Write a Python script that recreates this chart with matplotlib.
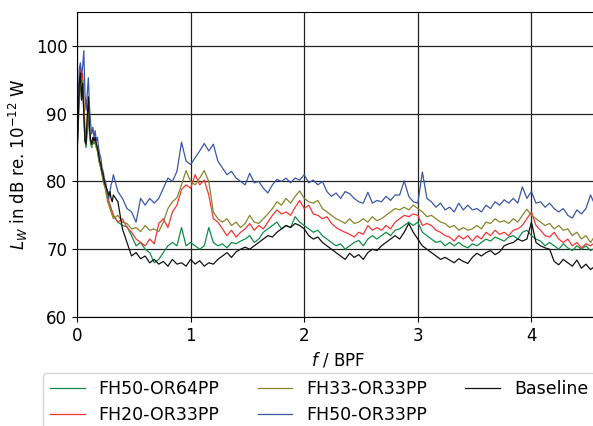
"""Sound power spectra of the rotor configurations over blade passing frequency."""

import numpy as np
import matplotlib
matplotlib.use("Agg")
import matplotlib.pyplot as plt

# frequency grid: fine near 0, coarser above 0.32 BPF
f_low = np.round(np.arange(0.0, 0.32, 0.01), 2)
f_high = np.round(np.arange(0.32, 4.601, 0.04), 2)
freq = np.concatenate([f_low, f_high])

labels = ["FH50-OR64PP", "FH20-OR33PP", "FH33-OR33PP", "FH50-OR33PP", "Baseline"]
colors = ["#108c48", "#f53535", "#86862c", "#3a56a6", "#111111"]

green_low = [84, 87.5, 93, 95, 93, 94, 90, 86, 85, 87.5, 90, 87, 85.5, 85, 86, 85.5,
             86, 85, 84.5, 83.5, 82.5, 82, 81, 80.5, 79.5, 79, 78, 77.5, 77, 76.5, 76, 75.5]
green_high = [75.0, 74.0, 73.5, 73.3, 72.0, 70.5, 71.0, 70.0, 69.5, 68.0,
              68.5, 69.5, 70.5, 71.0, 70.5, 73.2, 70.5, 71.0, 70.5, 70.0,
              70.5, 73.2, 71.0, 70.5, 70.8, 70.2, 71.0, 70.8, 71.2, 71.5,
              72.0, 71.0, 71.5, 72.5, 73.0, 73.5, 74.0, 73.0, 73.5, 73.2,
              74.8, 74.0, 73.5, 73.0, 72.5, 72.8, 72.0, 71.5, 71.0, 70.5,
              70.8, 70.0, 70.5, 71.0, 71.3, 70.5, 71.5, 72.0, 71.5, 72.0,
              72.5, 72.0, 72.8, 73.0, 73.5, 74.0, 73.5, 74.0, 72.5, 72.0,
              71.5, 71.0, 71.2, 70.5, 71.0, 70.5, 71.0, 70.5, 70.2, 70.8,
              70.5, 71.0, 71.5, 71.2, 71.8, 71.5, 71.2, 71.8, 72.0, 71.5,
              72.5, 72.8, 72.0, 71.5, 71.2, 70.5, 71.0, 70.5, 70.0, 70.8,
              70.2, 69.8, 70.5, 70.0, 70.5, 69.8, 70.2, 70.0]

red_low = [84, 90, 95, 97, 94.5, 96, 92, 88, 86.5, 89, 91.5, 88, 86, 85.5, 86.5, 86,
           86.5, 85.5, 85, 84, 83, 82, 81.5, 80.5, 80, 79, 78.5, 78, 77, 76.5, 76, 75.5]
red_high = [75.0, 74.0, 74.5, 73.2, 72.5, 71.5, 71.0, 70.5, 71.5, 70.8,
            73.8, 74.5, 73.2, 75.5, 76.5, 78.8, 79.5, 79.0, 81.0, 79.5,
            80.2, 78.0, 74.5, 74.0, 73.0, 72.0, 72.8, 71.8, 72.5, 73.0,
            73.8, 72.8, 73.5, 73.0, 74.0, 75.0, 75.8, 75.2, 75.5, 75.0,
            76.2, 77.2, 76.0, 76.5, 75.2, 75.0, 74.5, 74.8, 73.8, 73.2,
            72.8, 72.5, 72.2, 71.8, 72.5, 72.2, 73.5, 72.8, 73.2, 72.8,
            73.5, 73.0, 74.0, 74.5, 75.0, 74.8, 75.2, 75.0, 73.5, 73.8,
            73.5, 72.8, 72.5, 72.0, 71.8, 71.2, 72.0, 71.5, 72.0, 71.2,
            72.0, 71.5, 72.5, 72.0, 72.8, 72.2, 72.5, 72.0, 72.8, 73.0,
            73.5, 74.5, 75.5, 73.5, 72.8, 72.0, 71.8, 72.5, 71.5, 71.0,
            71.5, 70.5, 71.0, 70.2, 70.8, 70.5, 71.0, 70.5]

olive_low = [84.5, 88, 93, 94.5, 92, 95, 90.5, 86.5, 85.5, 88, 90.5, 87.5, 86, 85, 86, 86.5,
             86, 85, 84.5, 83.5, 82.5, 82, 81, 80, 79.5, 79, 78, 77, 76.5, 76, 75.5, 75]
olive_high = [74.5, 75.0, 74.0, 73.8, 73.0, 73.2, 72.6, 73.5, 72.8, 73.0,
              72.6, 74.0, 76.0, 77.0, 77.6, 79.5, 81.6, 80.0, 79.5, 80.5,
              81.6, 80.0, 75.5, 74.5, 74.0, 74.5, 73.5, 74.0, 73.2, 73.8,
              75.0, 74.0, 73.8, 74.5, 75.2, 76.0, 77.0, 76.5, 77.5, 76.8,
              77.8, 78.6, 77.5, 77.0, 76.8, 77.2, 76.0, 75.5, 75.0, 74.5,
              74.2, 73.8, 74.5, 73.8, 74.0, 74.5, 74.0, 74.8, 74.2, 74.5,
              75.0, 75.5, 76.0, 75.8, 76.2, 75.8, 76.5, 76.0, 75.5, 74.8,
              75.0, 74.5, 74.0, 73.8, 73.2, 73.5, 72.8, 73.2, 72.8, 73.0,
              73.5, 73.0, 74.0, 73.8, 74.5, 74.0, 74.2, 73.8, 74.5, 74.0,
              75.0, 75.9, 75.0, 74.5, 74.0, 73.5, 73.8, 73.0, 73.5, 72.8,
              73.0, 72.0, 72.5, 71.5, 72.0, 71.0, 72.0, 71.5]

blue_low = [84.5, 89, 96.5, 97.5, 95.5, 97, 99.3, 93, 90.5, 93, 95.3, 91, 88.5, 87, 88, 86.5,
            87.5, 86, 86.5, 85, 84, 83.5, 82, 81.5, 80.5, 80, 79, 78.5, 77.5, 78.5, 79.5, 80]
blue_high = [81.0, 78.5, 77.5, 76.0, 75.5, 74.0, 77.5, 76.5, 77.5, 76.8,
             77.5, 79.0, 80.5, 80.0, 81.5, 85.8, 83.0, 82.5, 83.5, 84.5,
             85.6, 84.5, 85.5, 83.0, 82.0, 81.0, 81.5, 80.5, 80.0, 79.5,
             81.2, 79.8, 80.0, 79.0, 78.3, 79.5, 80.3, 80.0, 80.5, 79.8,
             80.5, 80.2, 81.0, 79.8, 80.2, 79.5, 80.0, 78.5, 77.8, 78.3,
             77.5, 78.5, 78.2, 77.5, 77.0, 76.8, 78.4, 76.8, 77.2, 77.0,
             77.8, 77.2, 78.0, 78.0, 80.1, 77.8, 77.0, 76.8, 81.4, 77.5,
             77.0, 76.2, 76.8, 75.8, 76.2, 75.5, 76.8, 75.8, 76.5, 75.8,
             76.0, 75.5, 76.5, 76.0, 77.0, 76.5, 77.3, 76.8, 77.5, 76.8,
             79.2, 77.5, 78.5, 76.8, 77.0, 76.2, 76.8, 76.0, 75.5, 76.0,
             75.0, 74.6, 75.8, 75.2, 76.0, 78.0, 76.5, 77.0]

base_low = [84, 88.5, 94.5, 96, 92, 94.5, 90, 86, 85.5, 89.5, 92.5, 88, 86, 85.5, 86.5, 86,
            86.5, 85.5, 85, 84, 83, 82.5, 81.5, 81, 80, 79.5, 79, 78.5, 78, 78.5, 77.5, 77]
base_high = [78.0, 77.0, 73.0, 71.0, 69.0, 69.5, 68.6, 69.0, 68.0, 68.5,
             67.8, 68.2, 67.5, 68.5, 67.8, 68.0, 67.5, 68.5, 67.8, 68.3,
             67.5, 68.0, 67.8, 68.5, 69.0, 69.5, 68.8, 69.6, 70.0, 70.3,
             70.0, 70.5, 71.0, 71.5, 72.0, 71.8, 72.5, 73.0, 73.5, 73.2,
             73.8, 73.5, 73.0, 72.0, 71.5, 71.8, 71.0, 70.5, 70.0, 69.5,
             69.0, 68.5, 69.4, 68.8, 69.2, 68.5, 69.5, 70.0, 69.8, 70.5,
             71.0, 71.5, 72.0, 71.5, 72.5, 73.8, 72.5, 71.5, 70.5, 70.0,
             69.5, 69.0, 68.5, 68.8, 68.4, 68.0, 68.6, 68.2, 67.9, 68.8,
             69.4, 69.0, 69.5, 69.8, 69.2, 69.6, 70.5, 70.8, 71.0, 71.5,
             71.2, 71.5, 74.0, 71.0, 70.5, 70.2, 70.0, 68.2, 67.7, 68.5,
             68.0, 67.5, 68.4, 67.2, 67.8, 67.0, 67.5, 67.2]

series = [green_low + green_high, red_low + red_high, olive_low + olive_high,
          blue_low + blue_high, base_low + base_high]

plt.rcParams["font.size"] = 12

fig = plt.figure(figsize=(5.93, 4.26), dpi=100)
ax = fig.add_axes([77 / 593, 109 / 426, 522.6 / 593, 305 / 426])

for values, label, color in zip(series, labels, colors):
    ax.plot(freq, values, color=color, lw=0.9, label=label)

ax.set_xlim(0, 4.6)
ax.set_ylim(60, 105)
ax.set_xticks([0, 1, 2, 3, 4])
ax.set_yticks([60, 70, 80, 90, 100])
ax.grid(True, color="#222222", lw=0.9)
ax.set_xlabel("$f$ / BPF")
ax.set_ylabel("$L_W$ in dB re. $10^{-12}$ W")

fig.legend(loc="upper left", bbox_to_anchor=(43 / 593, 1 - 373 / 426), ncol=3,
           borderaxespad=0, fontsize=12.5, labelspacing=0.45, columnspacing=2.2)

fig.savefig("out.png", dpi=100)
